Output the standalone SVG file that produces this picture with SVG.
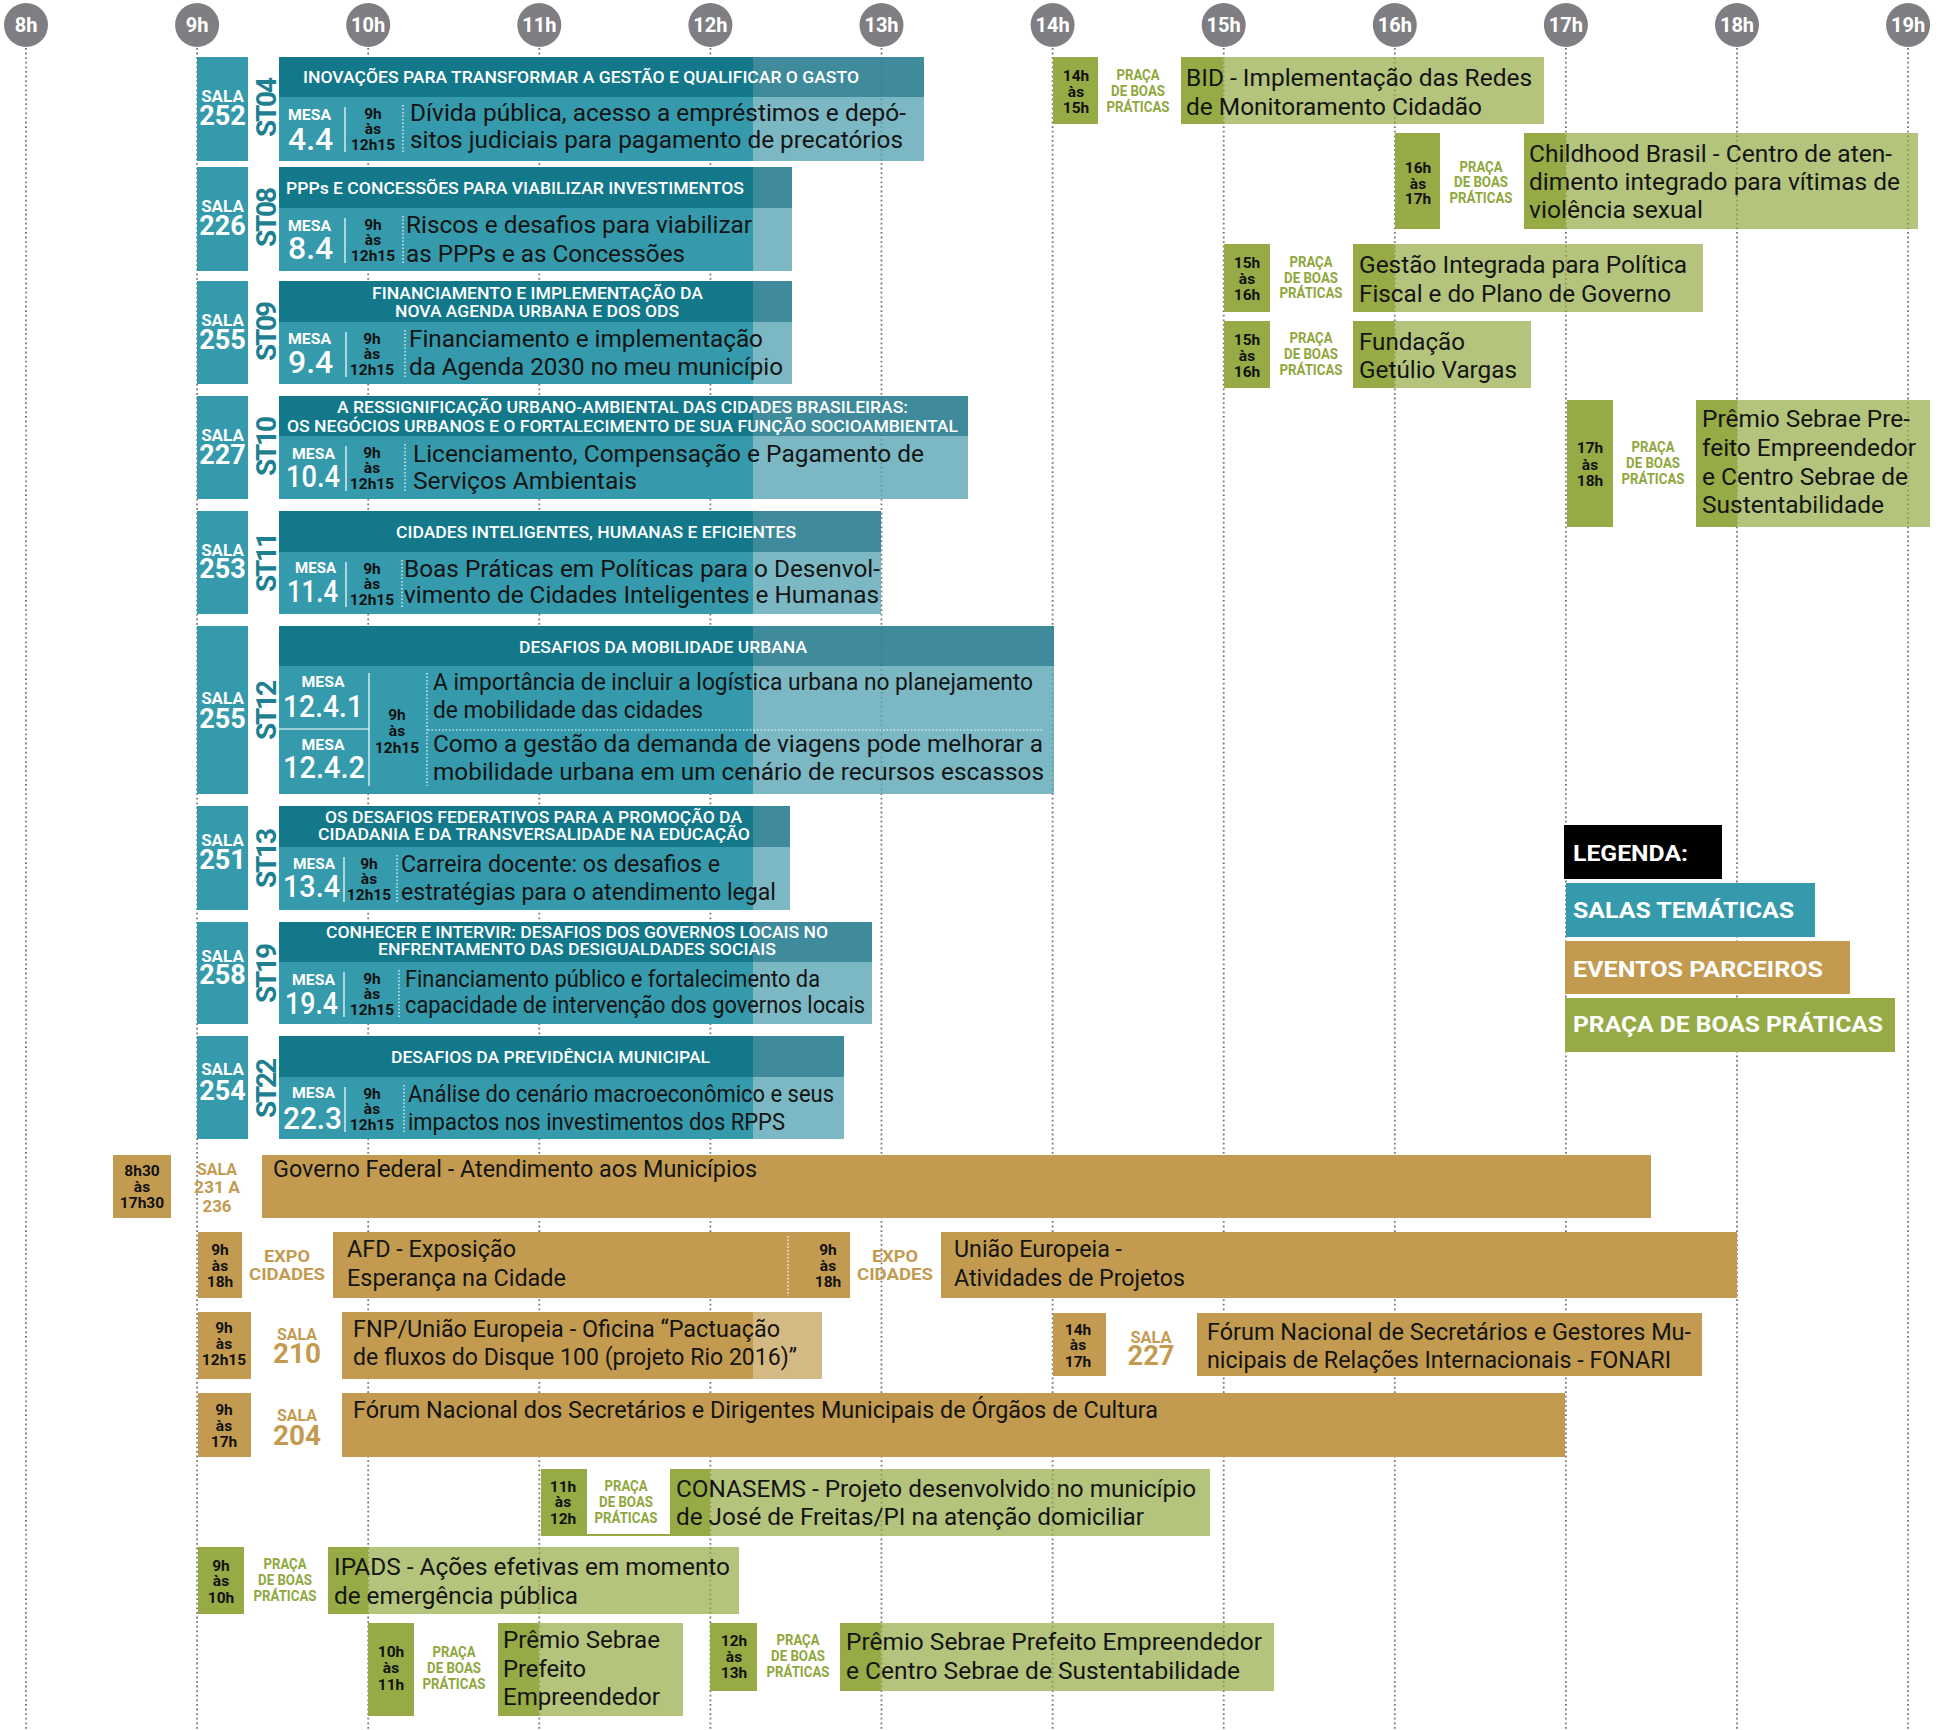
<svg xmlns="http://www.w3.org/2000/svg" width="1945" height="1730" viewBox="0 0 1945 1730">
<style>
text{font-family:Roboto,"Liberation Sans",Arial,sans-serif}
.gl{stroke:#7a7a7a;stroke-width:1.8;stroke-dasharray:1.8 2.8}
.hc{fill:#7f7f83}
.ht{fill:#fff;font-size:20px;font-weight:700;text-anchor:middle}
.tD{fill:#13788a}.tDL{fill:#2a7e90;fill-opacity:.9}.tM{fill:#359aab}.tML{fill:#5aa6b4;fill-opacity:.8}
.g{fill:#96ab46}.gL{fill:#96ab46;fill-opacity:.7}.o{fill:#c39b50}.oL{fill:#c39b50;fill-opacity:.7}
.hdr{fill:#fff;font-size:17px;font-weight:500}
.ttl{fill:#141414;font-size:23px}
.mesa{fill:#fff;font-size:15px;font-weight:700}
.num{fill:#fff;font-size:32px;font-weight:500}
.tm{fill:#111;font-size:15.5px;font-weight:700;text-anchor:middle}
.sala{fill:#fff;font-size:17px;font-weight:700;text-anchor:middle}
.saln{fill:#fff;font-size:27px;font-weight:700;text-anchor:middle}
.st{fill:#1e7f90;font-size:28px;font-weight:700;text-anchor:middle}
.pl{fill:#8fa83e;font-size:14px;font-weight:700;text-anchor:middle}
.ol{fill:#c39b50;font-size:17px;font-weight:700;text-anchor:middle}
.oln{fill:#c39b50;font-size:27px;font-weight:700;text-anchor:middle}
.leg{fill:#fff;font-size:22px;font-weight:700}
.wl{stroke:#fff;stroke-width:1.2}
.wd{stroke:#fff;stroke-width:1.2;stroke-dasharray:1.5 2}
</style>
<rect width="1945" height="1730" fill="#fff"/>
<g id="timeline">
<g class="gl">
<line x1="26" y1="48" x2="26" y2="1730"/><line x1="197.1" y1="48" x2="197.1" y2="1730"/><line x1="368.2" y1="48" x2="368.2" y2="1730"/><line x1="539.3" y1="48" x2="539.3" y2="1730"/><line x1="710.4" y1="48" x2="710.4" y2="1730"/><line x1="881.5" y1="48" x2="881.5" y2="1730"/><line x1="1052.6" y1="48" x2="1052.6" y2="1730"/><line x1="1223.7" y1="48" x2="1223.7" y2="1730"/><line x1="1394.8" y1="48" x2="1394.8" y2="1730"/><line x1="1565.9" y1="48" x2="1565.9" y2="1730"/><line x1="1737" y1="48" x2="1737" y2="1730"/><line x1="1908.1" y1="48" x2="1908.1" y2="1730"/>
</g>
<g class="hc">
<circle cx="26" cy="25" r="22"/><circle cx="197.1" cy="25" r="22"/><circle cx="368.2" cy="25" r="22"/><circle cx="539.3" cy="25" r="22"/><circle cx="710.4" cy="25" r="22"/><circle cx="881.5" cy="25" r="22"/><circle cx="1052.6" cy="25" r="22"/><circle cx="1223.7" cy="25" r="22"/><circle cx="1394.8" cy="25" r="22"/><circle cx="1565.9" cy="25" r="22"/><circle cx="1737" cy="25" r="22"/><circle cx="1908.1" cy="25" r="22"/>
</g>
<g class="ht">
<text x="26" y="32">8h</text><text x="197.1" y="32">9h</text><text x="368.2" y="32">10h</text><text x="539.3" y="32">11h</text><text x="710.4" y="32">12h</text><text x="881.5" y="32">13h</text><text x="1052.6" y="32">14h</text><text x="1223.7" y="32">15h</text><text x="1394.8" y="32">16h</text><text x="1565.9" y="32">17h</text><text x="1737" y="32">18h</text><text x="1908.1" y="32">19h</text>
</g>
</g>

<g id="st04">
<rect class="tM" x="197" y="57" width="51" height="104"/>
<text class="sala" x="222.5" y="102">SALA</text><text class="saln" x="222.5" y="125">252</text>
<text class="st" transform="translate(276 107) rotate(-90)" textLength="60">ST04</text>
<rect class="tD" x="279" y="57" width="474" height="40"/><rect class="tDL" x="753" y="57" width="171" height="40"/>
<rect class="tM" x="279" y="97" width="474" height="64"/><rect class="tML" x="753" y="97" width="171" height="64"/>
<text class="hdr" x="303" y="83" textLength="556" lengthAdjust="spacingAndGlyphs">INOVAÇÕES PARA TRANSFORMAR A GESTÃO E QUALIFICAR O GASTO</text>
<text class="mesa" x="288" y="120" textLength="43" lengthAdjust="spacingAndGlyphs">MESA</text><text class="num" x="288" y="150">4.4</text>
<line class="wl" x1="345" y1="107" x2="345" y2="152"/>
<text class="tm" x="373" y="119">9h</text><text class="tm" x="373" y="134">às</text><text class="tm" x="373" y="150">12h15</text>
<line class="wd" x1="403" y1="105" x2="403" y2="152"/>
<text class="ttl" x="410" y="121" textLength="496" lengthAdjust="spacingAndGlyphs">Dívida pública, acesso a empréstimos e depó-</text>
<text class="ttl" x="410" y="148" textLength="493" lengthAdjust="spacingAndGlyphs">sitos judiciais para pagamento de precatórios</text>
</g>

<g id="st08">
<rect class="tM" x="197" y="167" width="51" height="104"/>
<text class="sala" x="222.5" y="212">SALA</text><text class="saln" x="222.5" y="235">226</text>
<text class="st" transform="translate(276 217) rotate(-90)" textLength="60">ST08</text>
<rect class="tD" x="279" y="167" width="474" height="41"/><rect class="tDL" x="753" y="167" width="39" height="41"/>
<rect class="tM" x="279" y="208" width="474" height="63"/><rect class="tML" x="753" y="208" width="39" height="63"/>
<text class="hdr" x="286" y="194" textLength="458" lengthAdjust="spacingAndGlyphs">PPPs E CONCESSÕES PARA VIABILIZAR INVESTIMENTOS</text>
<text class="mesa" x="288" y="231" textLength="43" lengthAdjust="spacingAndGlyphs">MESA</text><text class="num" x="288" y="259">8.4</text>
<line class="wl" x1="345" y1="218" x2="345" y2="263"/>
<text class="tm" x="373" y="230">9h</text><text class="tm" x="373" y="245">às</text><text class="tm" x="373" y="261">12h15</text>
<line class="wd" x1="403" y1="216" x2="403" y2="263"/>
<text class="ttl" x="406" y="233" textLength="346" lengthAdjust="spacingAndGlyphs">Riscos e desafios para viabilizar</text>
<text class="ttl" x="406" y="262" textLength="279" lengthAdjust="spacingAndGlyphs">as PPPs e as Concessões</text>
</g>

<g id="st09">
<rect class="tM" x="197" y="281" width="51" height="103"/>
<text class="sala" x="222.5" y="326">SALA</text><text class="saln" x="222.5" y="349">255</text>
<text class="st" transform="translate(276 331) rotate(-90)" textLength="60">ST09</text>
<rect class="tD" x="279" y="281" width="474" height="41"/><rect class="tDL" x="753" y="281" width="39" height="41"/>
<rect class="tM" x="279" y="322" width="474" height="62"/><rect class="tML" x="753" y="322" width="39" height="62"/>
<text class="hdr" x="372" y="299" textLength="331" lengthAdjust="spacingAndGlyphs">FINANCIAMENTO E IMPLEMENTAÇÃO DA</text>
<text class="hdr" x="395" y="317" textLength="284" lengthAdjust="spacingAndGlyphs">NOVA AGENDA URBANA E DOS ODS</text>
<text class="mesa" x="288" y="344" textLength="43" lengthAdjust="spacingAndGlyphs">MESA</text><text class="num" x="288" y="373">9.4</text>
<line class="wl" x1="346" y1="332" x2="346" y2="377"/>
<text class="tm" x="372" y="344">9h</text><text class="tm" x="372" y="359">às</text><text class="tm" x="372" y="375">12h15</text>
<line class="wd" x1="405" y1="330" x2="405" y2="377"/>
<text class="ttl" x="409" y="347" textLength="354" lengthAdjust="spacingAndGlyphs">Financiamento e implementação</text>
<text class="ttl" x="409" y="375" textLength="374" lengthAdjust="spacingAndGlyphs">da Agenda 2030 no meu município</text>
</g>

<g id="st10">
<rect class="tM" x="197" y="396" width="51" height="103"/>
<text class="sala" x="222.5" y="441">SALA</text><text class="saln" x="222.5" y="464">227</text>
<text class="st" transform="translate(276 446) rotate(-90)" textLength="60">ST10</text>
<rect class="tD" x="279" y="396" width="474" height="40"/><rect class="tDL" x="753" y="396" width="215" height="40"/>
<rect class="tM" x="279" y="436" width="474" height="63"/><rect class="tML" x="753" y="436" width="215" height="63"/>
<text class="hdr" x="337" y="413" textLength="571" lengthAdjust="spacingAndGlyphs">A RESSIGNIFICAÇÃO URBANO-AMBIENTAL DAS CIDADES BRASILEIRAS:</text>
<text class="hdr" x="287" y="432" textLength="671" lengthAdjust="spacingAndGlyphs">OS NEGÓCIOS URBANOS E O FORTALECIMENTO DE SUA FUNÇÃO SOCIOAMBIENTAL</text>
<text class="mesa" x="292" y="459" textLength="43" lengthAdjust="spacingAndGlyphs">MESA</text><text class="num" x="286" y="487" textLength="54" lengthAdjust="spacingAndGlyphs">10.4</text>
<line class="wl" x1="346" y1="446" x2="346" y2="491"/>
<text class="tm" x="372" y="458">9h</text><text class="tm" x="372" y="473">às</text><text class="tm" x="372" y="489">12h15</text>
<line class="wd" x1="405" y1="444" x2="405" y2="491"/>
<text class="ttl" x="413" y="462" textLength="511" lengthAdjust="spacingAndGlyphs">Licenciamento, Compensação e Pagamento de</text>
<text class="ttl" x="413" y="489" textLength="224" lengthAdjust="spacingAndGlyphs">Serviços Ambientais</text>
</g>

<g id="st11">
<rect class="tM" x="197" y="511" width="51" height="103"/>
<text class="sala" x="222.5" y="556">SALA</text><text class="saln" x="222.5" y="578">253</text>
<text class="st" transform="translate(276 562) rotate(-90)" textLength="60">ST11</text>
<rect class="tD" x="279" y="511" width="474" height="41"/><rect class="tDL" x="753" y="511" width="128" height="41"/>
<rect class="tM" x="279" y="552" width="474" height="62"/><rect class="tML" x="753" y="552" width="128" height="62"/>
<text class="hdr" x="396" y="538" textLength="400" lengthAdjust="spacingAndGlyphs">CIDADES INTELIGENTES, HUMANAS E EFICIENTES</text>
<text class="mesa" x="295" y="573" textLength="41" lengthAdjust="spacingAndGlyphs">MESA</text><text class="num" x="287" y="602" textLength="51" lengthAdjust="spacingAndGlyphs">11.4</text>
<line class="wl" x1="346" y1="562" x2="346" y2="607"/>
<text class="tm" x="372" y="574">9h</text><text class="tm" x="372" y="589">às</text><text class="tm" x="372" y="605">12h15</text>
<line class="wd" x1="402" y1="560" x2="402" y2="607"/>
<text class="ttl" x="404" y="577" textLength="476" lengthAdjust="spacingAndGlyphs">Boas Práticas em Políticas para o Desenvol-</text>
<text class="ttl" x="404" y="603" textLength="475" lengthAdjust="spacingAndGlyphs">vimento de Cidades Inteligentes e Humanas</text>
</g>

<g id="st12">
<rect class="tM" x="197" y="626" width="51" height="168"/>
<text class="sala" x="222.5" y="704">SALA</text><text class="saln" x="222.5" y="728">255</text>
<text class="st" transform="translate(276 710) rotate(-90)" textLength="60">ST12</text>
<rect class="tD" x="279" y="626" width="474" height="40"/><rect class="tDL" x="753" y="626" width="301" height="40"/>
<rect class="tM" x="279" y="666" width="474" height="128"/><rect class="tML" x="753" y="666" width="301" height="128"/>
<text class="hdr" x="519" y="653" textLength="288" lengthAdjust="spacingAndGlyphs">DESAFIOS DA MOBILIDADE URBANA</text>
<text class="mesa" x="323" y="687" text-anchor="middle" textLength="43" lengthAdjust="spacingAndGlyphs">MESA</text>
<text class="num" x="283" y="717" textLength="80" lengthAdjust="spacingAndGlyphs">12.4.1</text>
<line class="wl" x1="279" y1="729" x2="369" y2="729"/>
<text class="mesa" x="323" y="750" text-anchor="middle" textLength="43" lengthAdjust="spacingAndGlyphs">MESA</text>
<text class="num" x="283" y="778" textLength="82" lengthAdjust="spacingAndGlyphs">12.4.2</text>
<line class="wl" x1="369" y1="673" x2="369" y2="786"/>
<text class="tm" x="397" y="720">9h</text><text class="tm" x="397" y="736">às</text><text class="tm" x="397" y="753">12h15</text>
<line class="wd" x1="427" y1="673" x2="427" y2="786"/>
<line class="wd" x1="428" y1="730" x2="1044" y2="730"/>
<text class="ttl" x="433" y="690" textLength="600" lengthAdjust="spacingAndGlyphs">A importância de incluir a logística urbana no planejamento</text>
<text class="ttl" x="433" y="718" textLength="270" lengthAdjust="spacingAndGlyphs">de mobilidade das cidades</text>
<text class="ttl" x="433" y="752" textLength="610" lengthAdjust="spacingAndGlyphs">Como a gestão da demanda de viagens pode melhorar a</text>
<text class="ttl" x="433" y="780" textLength="611" lengthAdjust="spacingAndGlyphs">mobilidade urbana em um cenário de recursos escassos</text>
</g>

<g id="st13">
<rect class="tM" x="197" y="806" width="51" height="104"/>
<text class="sala" x="222.5" y="846">SALA</text><text class="saln" x="222.5" y="869">251</text>
<text class="st" transform="translate(276 858) rotate(-90)" textLength="60">ST13</text>
<rect class="tD" x="279" y="806" width="474" height="41"/><rect class="tDL" x="753" y="806" width="37" height="41"/>
<rect class="tM" x="279" y="847" width="474" height="63"/><rect class="tML" x="753" y="847" width="37" height="63"/>
<text class="hdr" x="325" y="823" textLength="417" lengthAdjust="spacingAndGlyphs">OS DESAFIOS FEDERATIVOS PARA A PROMOÇÃO DA</text>
<text class="hdr" x="318" y="840" textLength="432" lengthAdjust="spacingAndGlyphs">CIDADANIA E DA TRANSVERSALIDADE NA EDUCAÇÃO</text>
<text class="mesa" x="293" y="869" textLength="42" lengthAdjust="spacingAndGlyphs">MESA</text><text class="num" x="283" y="897" textLength="57" lengthAdjust="spacingAndGlyphs">13.4</text>
<line class="wl" x1="344" y1="857" x2="344" y2="902"/>
<text class="tm" x="369" y="869">9h</text><text class="tm" x="369" y="884">às</text><text class="tm" x="369" y="900">12h15</text>
<line class="wd" x1="397" y1="855" x2="397" y2="902"/>
<text class="ttl" x="401" y="872" textLength="319" lengthAdjust="spacingAndGlyphs">Carreira docente: os desafios e</text>
<text class="ttl" x="401" y="900" textLength="375" lengthAdjust="spacingAndGlyphs">estratégias para o atendimento legal</text>
</g>

<g id="st19">
<rect class="tM" x="197" y="922" width="51" height="102"/>
<text class="sala" x="222.5" y="962">SALA</text><text class="saln" x="222.5" y="984">258</text>
<text class="st" transform="translate(276 973) rotate(-90)" textLength="60">ST19</text>
<rect class="tD" x="279" y="922" width="474" height="40"/><rect class="tDL" x="753" y="922" width="119" height="40"/>
<rect class="tM" x="279" y="962" width="474" height="62"/><rect class="tML" x="753" y="962" width="119" height="62"/>
<text class="hdr" x="326" y="938" textLength="502" lengthAdjust="spacingAndGlyphs">CONHECER E INTERVIR: DESAFIOS DOS GOVERNOS LOCAIS NO</text>
<text class="hdr" x="378" y="955" textLength="398" lengthAdjust="spacingAndGlyphs">ENFRENTAMENTO DAS DESIGUALDADES SOCIAIS</text>
<text class="mesa" x="292" y="985" textLength="43" lengthAdjust="spacingAndGlyphs">MESA</text><text class="num" x="285" y="1014" textLength="53" lengthAdjust="spacingAndGlyphs">19.4</text>
<line class="wl" x1="344" y1="972" x2="344" y2="1017"/>
<text class="tm" x="372" y="984">9h</text><text class="tm" x="372" y="999">às</text><text class="tm" x="372" y="1015">12h15</text>
<line class="wd" x1="399" y1="970" x2="399" y2="1017"/>
<text class="ttl" x="405" y="987" textLength="415" lengthAdjust="spacingAndGlyphs">Financiamento público e fortalecimento da</text>
<text class="ttl" x="405" y="1013" textLength="460" lengthAdjust="spacingAndGlyphs">capacidade de intervenção dos governos locais</text>
</g>

<g id="st22">
<rect class="tM" x="197" y="1036" width="51" height="103"/>
<text class="sala" x="222.5" y="1075">SALA</text><text class="saln" x="222.5" y="1100">254</text>
<text class="st" transform="translate(276 1088) rotate(-90)" textLength="60">ST22</text>
<rect class="tD" x="279" y="1036" width="474" height="41"/><rect class="tDL" x="753" y="1036" width="91" height="41"/>
<rect class="tM" x="279" y="1077" width="474" height="62"/><rect class="tML" x="753" y="1077" width="91" height="62"/>
<text class="hdr" x="391" y="1063" textLength="319" lengthAdjust="spacingAndGlyphs">DESAFIOS DA PREVIDÊNCIA MUNICIPAL</text>
<text class="mesa" x="292" y="1098" textLength="43" lengthAdjust="spacingAndGlyphs">MESA</text><text class="num" x="283" y="1129" textLength="59" lengthAdjust="spacingAndGlyphs">22.3</text>
<line class="wl" x1="345" y1="1087" x2="345" y2="1132"/>
<text class="tm" x="372" y="1099">9h</text><text class="tm" x="372" y="1114">às</text><text class="tm" x="372" y="1130">12h15</text>
<line class="wd" x1="404" y1="1085" x2="404" y2="1132"/>
<text class="ttl" x="408" y="1102" textLength="426" lengthAdjust="spacingAndGlyphs">Análise do cenário macroeconômico e seus</text>
<text class="ttl" x="408" y="1130" textLength="377" lengthAdjust="spacingAndGlyphs">impactos nos investimentos dos RPPS</text>
</g>

<g id="bid">
<rect class="g" x="1053" y="57" width="45" height="67"/>
<text class="tm" x="1076" y="81">14h</text><text class="tm" x="1076" y="97">às</text><text class="tm" x="1076" y="113">15h</text>
<text class="pl" x="1138" y="80" textLength="43" lengthAdjust="spacingAndGlyphs">PRAÇA</text><text class="pl" x="1138" y="96" textLength="54" lengthAdjust="spacingAndGlyphs">DE BOAS</text><text class="pl" x="1138" y="112" textLength="63" lengthAdjust="spacingAndGlyphs">PRÁTICAS</text>
<rect class="g" x="1181" y="57" width="42.7" height="67"/><rect class="gL" x="1223.7" y="57" width="320.3" height="67"/>
<text class="ttl" x="1186" y="86" textLength="346" lengthAdjust="spacingAndGlyphs">BID - Implementação das Redes</text>
<text class="ttl" x="1186" y="115" textLength="296" lengthAdjust="spacingAndGlyphs">de Monitoramento Cidadão</text>
</g>

<g id="childhood">
<rect class="g" x="1395" y="133" width="45" height="96"/>
<text class="tm" x="1418" y="173">16h</text><text class="tm" x="1418" y="189">às</text><text class="tm" x="1418" y="204">17h</text>
<text class="pl" x="1481" y="172" textLength="43" lengthAdjust="spacingAndGlyphs">PRAÇA</text><text class="pl" x="1481" y="187" textLength="54" lengthAdjust="spacingAndGlyphs">DE BOAS</text><text class="pl" x="1481" y="203" textLength="63" lengthAdjust="spacingAndGlyphs">PRÁTICAS</text>
<rect class="g" x="1524" y="133" width="41.9" height="96"/><rect class="gL" x="1565.9" y="133" width="352.1" height="96"/>
<text class="ttl" x="1529" y="162" textLength="363" lengthAdjust="spacingAndGlyphs">Childhood Brasil - Centro de aten-</text>
<text class="ttl" x="1529" y="190" textLength="371" lengthAdjust="spacingAndGlyphs">dimento integrado para vítimas de</text>
<text class="ttl" x="1529" y="218" textLength="174" lengthAdjust="spacingAndGlyphs">violência sexual</text>
</g>

<g id="gestao">
<rect class="g" x="1224" y="244" width="46" height="68"/>
<text class="tm" x="1247" y="268">15h</text><text class="tm" x="1247" y="284">às</text><text class="tm" x="1247" y="300">16h</text>
<text class="pl" x="1311" y="267" textLength="43" lengthAdjust="spacingAndGlyphs">PRAÇA</text><text class="pl" x="1311" y="283" textLength="54" lengthAdjust="spacingAndGlyphs">DE BOAS</text><text class="pl" x="1311" y="298" textLength="63" lengthAdjust="spacingAndGlyphs">PRÁTICAS</text>
<rect class="g" x="1353" y="244" width="41.8" height="68"/><rect class="gL" x="1394.8" y="244" width="308.2" height="68"/>
<text class="ttl" x="1359" y="273" textLength="328" lengthAdjust="spacingAndGlyphs">Gestão Integrada para Política</text>
<text class="ttl" x="1359" y="302" textLength="312" lengthAdjust="spacingAndGlyphs">Fiscal e do Plano de Governo</text>
</g>

<g id="fgv">
<rect class="g" x="1224" y="321" width="46" height="67"/>
<text class="tm" x="1247" y="345">15h</text><text class="tm" x="1247" y="361">às</text><text class="tm" x="1247" y="377">16h</text>
<text class="pl" x="1311" y="343" textLength="43" lengthAdjust="spacingAndGlyphs">PRAÇA</text><text class="pl" x="1311" y="359" textLength="54" lengthAdjust="spacingAndGlyphs">DE BOAS</text><text class="pl" x="1311" y="375" textLength="63" lengthAdjust="spacingAndGlyphs">PRÁTICAS</text>
<rect class="g" x="1353" y="321" width="41.8" height="67"/><rect class="gL" x="1394.8" y="321" width="136.2" height="67"/>
<text class="ttl" x="1359" y="350" textLength="106" lengthAdjust="spacingAndGlyphs">Fundação</text>
<text class="ttl" x="1359" y="378" textLength="158" lengthAdjust="spacingAndGlyphs">Getúlio Vargas</text>
</g>

<g id="sebrae17">
<rect class="g" x="1567" y="400" width="46" height="127"/>
<text class="tm" x="1590" y="453">17h</text><text class="tm" x="1590" y="470">às</text><text class="tm" x="1590" y="486">18h</text>
<text class="pl" x="1653" y="452" textLength="43" lengthAdjust="spacingAndGlyphs">PRAÇA</text><text class="pl" x="1653" y="468" textLength="54" lengthAdjust="spacingAndGlyphs">DE BOAS</text><text class="pl" x="1653" y="484" textLength="63" lengthAdjust="spacingAndGlyphs">PRÁTICAS</text>
<rect class="g" x="1696" y="400" width="41" height="127"/><rect class="gL" x="1737" y="400" width="193" height="127"/>
<text class="ttl" x="1702" y="427" textLength="208" lengthAdjust="spacingAndGlyphs">Prêmio Sebrae Pre-</text>
<text class="ttl" x="1702" y="456" textLength="214" lengthAdjust="spacingAndGlyphs">feito Empreendedor</text>
<text class="ttl" x="1702" y="485" textLength="206" lengthAdjust="spacingAndGlyphs">e Centro Sebrae de</text>
<text class="ttl" x="1702" y="513" textLength="182" lengthAdjust="spacingAndGlyphs">Sustentabilidade</text>
</g>

<g id="legenda">
<rect x="1564" y="825" width="158" height="54" fill="#000"/>
<text class="leg" x="1573" y="861" textLength="115" lengthAdjust="spacingAndGlyphs">LEGENDA:</text>
<rect class="tM" x="1566" y="883" width="249" height="54"/>
<text class="leg" x="1573" y="918" textLength="221" lengthAdjust="spacingAndGlyphs">SALAS TEMÁTICAS</text>
<rect class="o" x="1565" y="941" width="285" height="53"/>
<text class="leg" x="1573" y="977" textLength="250" lengthAdjust="spacingAndGlyphs">EVENTOS PARCEIROS</text>
<rect class="g" x="1565" y="998" width="330" height="54"/>
<text class="leg" x="1573" y="1032" textLength="310" lengthAdjust="spacingAndGlyphs">PRAÇA DE BOAS PRÁTICAS</text>
</g>

<g id="governo">
<rect class="o" x="113" y="1155" width="58" height="63"/>
<text class="tm" x="142" y="1176">8h30</text><text class="tm" x="142" y="1192">às</text><text class="tm" x="142" y="1208">17h30</text>
<text class="ol" x="217" y="1175" textLength="40" lengthAdjust="spacingAndGlyphs">SALA</text><text class="ol" x="217" y="1193" textLength="46" lengthAdjust="spacingAndGlyphs">231 A</text><text class="ol" x="217" y="1212" textLength="29" lengthAdjust="spacingAndGlyphs">236</text>
<rect class="o" x="262" y="1155" width="1389" height="63"/>
<text class="ttl" x="273" y="1177" textLength="484" lengthAdjust="spacingAndGlyphs">Governo Federal - Atendimento aos Municípios</text>
</g>

<g id="afd">
<rect class="o" x="198" y="1232" width="44" height="66"/>
<text class="tm" x="220" y="1255">9h</text><text class="tm" x="220" y="1271">às</text><text class="tm" x="220" y="1287">18h</text>
<text class="ol" x="287" y="1262" textLength="46" lengthAdjust="spacingAndGlyphs">EXPO</text><text class="ol" x="287" y="1280" textLength="76" lengthAdjust="spacingAndGlyphs">CIDADES</text>
<rect class="o" x="333" y="1232" width="454" height="66"/>
<text class="ttl" x="347" y="1257" textLength="169" lengthAdjust="spacingAndGlyphs">AFD - Exposição</text>
<text class="ttl" x="347" y="1286" textLength="219" lengthAdjust="spacingAndGlyphs">Esperança na Cidade</text>
</g>

<g id="ue">
<rect class="o" x="787" y="1232" width="63" height="66"/>
<line class="wd" x1="788" y1="1236" x2="788" y2="1296"/>
<text class="tm" x="828" y="1255">9h</text><text class="tm" x="828" y="1271">às</text><text class="tm" x="828" y="1287">18h</text>
<text class="ol" x="895" y="1262" textLength="46" lengthAdjust="spacingAndGlyphs">EXPO</text><text class="ol" x="895" y="1280" textLength="76" lengthAdjust="spacingAndGlyphs">CIDADES</text>
<rect class="o" x="941" y="1232" width="796" height="66"/>
<text class="ttl" x="954" y="1257" textLength="168" lengthAdjust="spacingAndGlyphs">União Europeia -</text>
<text class="ttl" x="954" y="1286" textLength="231" lengthAdjust="spacingAndGlyphs">Atividades de Projetos</text>
</g>

<g id="fnp">
<rect class="o" x="198" y="1312" width="53" height="67"/>
<text class="tm" x="224" y="1333">9h</text><text class="tm" x="224" y="1349">às</text><text class="tm" x="224" y="1365">12h15</text>
<text class="ol" x="297" y="1340" textLength="40" lengthAdjust="spacingAndGlyphs">SALA</text><text class="oln" x="297" y="1363" textLength="48" lengthAdjust="spacingAndGlyphs">210</text>
<rect class="o" x="342" y="1312" width="411" height="67"/><rect class="oL" x="753" y="1312" width="69" height="67"/>
<text class="ttl" x="353" y="1337" textLength="427" lengthAdjust="spacingAndGlyphs">FNP/União Europeia - Oficina “Pactuação</text>
<text class="ttl" x="353" y="1365" textLength="444" lengthAdjust="spacingAndGlyphs">de fluxos do Disque 100 (projeto Rio 2016)”</text>
</g>

<g id="fonari">
<rect class="o" x="1053" y="1313" width="53" height="63"/>
<text class="tm" x="1078" y="1335">14h</text><text class="tm" x="1078" y="1350">às</text><text class="tm" x="1078" y="1367">17h</text>
<text class="ol" x="1151" y="1343" textLength="41" lengthAdjust="spacingAndGlyphs">SALA</text><text class="oln" x="1151" y="1365" textLength="47" lengthAdjust="spacingAndGlyphs">227</text>
<rect class="o" x="1197" y="1313" width="505" height="63"/>
<text class="ttl" x="1207" y="1340" textLength="484" lengthAdjust="spacingAndGlyphs">Fórum Nacional de Secretários e Gestores Mu-</text>
<text class="ttl" x="1207" y="1368" textLength="464" lengthAdjust="spacingAndGlyphs">nicipais de Relações Internacionais - FONARI</text>
</g>

<g id="cultura">
<rect class="o" x="198" y="1393" width="53" height="64"/>
<text class="tm" x="224" y="1415">9h</text><text class="tm" x="224" y="1431">às</text><text class="tm" x="224" y="1447">17h</text>
<text class="ol" x="297" y="1421" textLength="40" lengthAdjust="spacingAndGlyphs">SALA</text><text class="oln" x="297" y="1445" textLength="48" lengthAdjust="spacingAndGlyphs">204</text>
<rect class="o" x="342" y="1393" width="1223" height="64"/>
<text class="ttl" x="353" y="1418" textLength="805" lengthAdjust="spacingAndGlyphs">Fórum Nacional dos Secretários e Dirigentes Municipais de Órgãos de Cultura</text>
</g>

<g id="conasems">
<rect class="g" x="541" y="1469" width="46" height="67"/>
<text class="tm" x="563" y="1492">11h</text><text class="tm" x="563" y="1507">às</text><text class="tm" x="563" y="1524">12h</text>
<text class="pl" x="626" y="1491" textLength="43" lengthAdjust="spacingAndGlyphs">PRAÇA</text><text class="pl" x="626" y="1507" textLength="54" lengthAdjust="spacingAndGlyphs">DE BOAS</text><text class="pl" x="626" y="1523" textLength="63" lengthAdjust="spacingAndGlyphs">PRÁTICAS</text>
<rect class="g" x="587" y="1534" width="83" height="2"/>
<rect class="g" x="670" y="1469" width="40.4" height="67"/><rect class="gL" x="710.4" y="1469" width="499.6" height="67"/>
<text class="ttl" x="676" y="1497" textLength="520" lengthAdjust="spacingAndGlyphs">CONASEMS - Projeto desenvolvido no município</text>
<text class="ttl" x="676" y="1525" textLength="468" lengthAdjust="spacingAndGlyphs">de José de Freitas/PI na atenção domiciliar</text>
</g>

<g id="ipads">
<rect class="g" x="198" y="1547" width="46" height="67"/>
<text class="tm" x="221" y="1571">9h</text><text class="tm" x="221" y="1586">às</text><text class="tm" x="221" y="1603">10h</text>
<text class="pl" x="285" y="1569" textLength="43" lengthAdjust="spacingAndGlyphs">PRAÇA</text><text class="pl" x="285" y="1585" textLength="54" lengthAdjust="spacingAndGlyphs">DE BOAS</text><text class="pl" x="285" y="1601" textLength="63" lengthAdjust="spacingAndGlyphs">PRÁTICAS</text>
<rect class="g" x="328" y="1547" width="40.2" height="67"/><rect class="gL" x="368.2" y="1547" width="370.8" height="67"/>
<text class="ttl" x="334" y="1575" textLength="396" lengthAdjust="spacingAndGlyphs">IPADS - Ações efetivas em momento</text>
<text class="ttl" x="334" y="1604" textLength="244" lengthAdjust="spacingAndGlyphs">de emergência pública</text>
</g>

<g id="sebrae10">
<rect class="g" x="368" y="1623" width="46" height="93"/>
<text class="tm" x="391" y="1657">10h</text><text class="tm" x="391" y="1673">às</text><text class="tm" x="391" y="1690">11h</text>
<text class="pl" x="454" y="1657" textLength="43" lengthAdjust="spacingAndGlyphs">PRAÇA</text><text class="pl" x="454" y="1673" textLength="54" lengthAdjust="spacingAndGlyphs">DE BOAS</text><text class="pl" x="454" y="1689" textLength="63" lengthAdjust="spacingAndGlyphs">PRÁTICAS</text>
<rect class="g" x="498" y="1623" width="41.3" height="93"/><rect class="gL" x="539.3" y="1623" width="143.7" height="93"/>
<text class="ttl" x="503" y="1648" textLength="157" lengthAdjust="spacingAndGlyphs">Prêmio Sebrae</text>
<text class="ttl" x="503" y="1677" textLength="83" lengthAdjust="spacingAndGlyphs">Prefeito</text>
<text class="ttl" x="503" y="1705" textLength="157" lengthAdjust="spacingAndGlyphs">Empreendedor</text>
</g>

<g id="sebrae12">
<rect class="g" x="710" y="1623" width="47" height="68"/>
<text class="tm" x="734" y="1646">12h</text><text class="tm" x="734" y="1662">às</text><text class="tm" x="734" y="1678">13h</text>
<text class="pl" x="798" y="1645" textLength="43" lengthAdjust="spacingAndGlyphs">PRAÇA</text><text class="pl" x="798" y="1661" textLength="54" lengthAdjust="spacingAndGlyphs">DE BOAS</text><text class="pl" x="798" y="1677" textLength="63" lengthAdjust="spacingAndGlyphs">PRÁTICAS</text>
<rect class="g" x="840" y="1623" width="41.5" height="68"/><rect class="gL" x="881.5" y="1623" width="392.5" height="68"/>
<text class="ttl" x="846" y="1650" textLength="416" lengthAdjust="spacingAndGlyphs">Prêmio Sebrae Prefeito Empreendedor</text>
<text class="ttl" x="846" y="1679" textLength="394" lengthAdjust="spacingAndGlyphs">e Centro Sebrae de Sustentabilidade</text>
</g>
</svg>
